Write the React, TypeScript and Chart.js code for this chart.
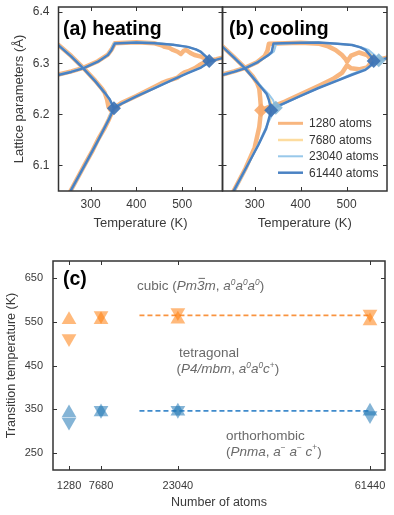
import React, { useEffect, useRef } from 'react';
import { Chart, registerables } from 'chart.js';

Chart.register(...registerables);

const FONT = '"Liberation Sans", Arial, Helvetica, sans-serif';
Chart.defaults.font.family = FONT;
Chart.defaults.color = '#3a3a3a';

type Pt = [number, number] | null;

// ---------- top panels: lattice parameters vs temperature ----------
const SIZE_LABELS = ['1280 atoms', '7680 atoms', '23040 atoms', '61440 atoms'];
const SIZE_COLORS = ['#f8b67f', '#fddc9f', '#98c8ea', '#4a82c3'];
const SIZE_WIDTHS = [4.5, 2, 2, 2.5];
const LEGEND_WIDTHS = [3, 2.5, 2, 2.5];

const TEMP_TICKS = [300, 400, 500];
const LATTICE_TICKS = [6.1, 6.2, 6.3, 6.4];

const HEAT_1280: Pt[] = [
  [230, 6.336], [258, 6.314], [284, 6.291], [310, 6.266], [325, 6.250], [331, 6.242], [336, 6.229], [339, 6.215], [344, 6.208], [351, 6.212],
  [367, 6.222], [400, 6.236], [440, 6.254], [455, 6.261], [469, 6.266], [480, 6.269], [490, 6.272], [498, 6.278], [505, 6.282], [515, 6.285], [527, 6.290], [537, 6.296], [545, 6.300], [559, 6.305], [575, 6.308], [588, 6.311],
  null,
  [230, 6.278], [258, 6.284], [284, 6.291], [316, 6.304], [338, 6.317], [346, 6.327], [353, 6.339], [400, 6.341], [440, 6.339], [455, 6.335], [462, 6.332], [472, 6.330], [480, 6.326], [490, 6.3225], [497, 6.318], [503, 6.324], [509, 6.326], [518, 6.320], [527, 6.316], [541, 6.313], [559, 6.305],
  null,
  [255, 6.048], [290, 6.106], [305, 6.130], [317, 6.152], [330, 6.172], [340, 6.190], [351, 6.212],
];
const HEAT_7680: Pt[] = [
  [230, 6.335], [258, 6.313], [284, 6.290], [310, 6.266], [331, 6.243], [342, 6.229], [350, 6.213],
  [367, 6.221], [400, 6.235], [440, 6.252], [480, 6.268], [512, 6.281], [541, 6.292], [553, 6.299], [560, 6.305], [575, 6.307], [588, 6.310],
  null,
  [230, 6.277], [258, 6.283], [284, 6.290], [316, 6.303], [338, 6.316], [346, 6.326], [352, 6.339], [400, 6.341], [440, 6.3395], [480, 6.336], [512, 6.332], [530, 6.327], [541, 6.322], [553, 6.312], [560, 6.305],
  null,
  [255, 6.048], [290, 6.105], [317, 6.150], [340, 6.190], [350, 6.213],
];
const HEAT_23040: Pt[] = [
  [230, 6.336], [258, 6.314], [284, 6.291], [310, 6.266], [331, 6.243], [341, 6.230], [349, 6.214],
  [367, 6.221], [400, 6.235], [440, 6.252], [480, 6.268], [512, 6.281], [541, 6.292], [554, 6.299], [561, 6.305], [575, 6.307], [588, 6.310],
  null,
  [230, 6.278], [258, 6.284], [284, 6.291], [316, 6.303], [337, 6.316], [345, 6.327], [351, 6.339], [400, 6.341], [440, 6.340], [480, 6.336], [512, 6.332], [530, 6.327], [541, 6.322], [554, 6.312], [561, 6.305],
  null,
  [256, 6.048], [290, 6.104], [317, 6.149], [339, 6.190], [349, 6.214],
];
const HEAT_61440: Pt[] = [
  [230, 6.335], [258, 6.313], [284, 6.290], [310, 6.265], [331, 6.242], [342, 6.229], [351, 6.212],
  [367, 6.2205], [400, 6.235], [440, 6.2515], [480, 6.268], [512, 6.2805], [541, 6.2915], [552, 6.298], [559, 6.3045], [575, 6.307], [588, 6.310],
  null,
  [230, 6.277], [258, 6.283], [284, 6.290], [316, 6.303], [338, 6.316], [346, 6.326], [353, 6.3385], [400, 6.3405], [440, 6.339], [480, 6.336], [512, 6.332], [530, 6.327], [541, 6.322], [552, 6.313], [559, 6.3045],
  null,
  [255, 6.048], [290, 6.105], [317, 6.150], [340, 6.190], [351, 6.212],
];

const COOL_1280: Pt[] = [
  [230, 6.333], [255, 6.312], [279, 6.291], [296, 6.274], [305, 6.262], [310, 6.250], [312, 6.232], [314, 6.208],
  [330, 6.214], [350, 6.219], [366, 6.225], [400, 6.239], [440, 6.256], [470, 6.269], [490, 6.281], [501, 6.296],
  null,
  [501, 6.296], [510, 6.290], [527, 6.288], [545, 6.292], [556, 6.3045],
  null,
  [501, 6.303], [510, 6.315], [527, 6.321], [545, 6.316], [556, 6.3045], [575, 6.308], [588, 6.311],
  null,
  [230, 6.278], [255, 6.284], [279, 6.291], [305, 6.302], [322, 6.314], [328, 6.325], [331, 6.338], [400, 6.340], [441, 6.338], [460, 6.333], [476, 6.326], [490, 6.316], [498, 6.308], [501, 6.303],
  null,
  [253, 6.048], [280, 6.094], [300, 6.135], [310, 6.175], [314, 6.208],
];
const COOL_7680: Pt[] = [
  [230, 6.332], [255, 6.311], [279, 6.290], [300, 6.269], [315, 6.253], [327, 6.240], [334, 6.228], [340, 6.210],
  [352, 6.217], [366, 6.223], [400, 6.236], [439, 6.252], [480, 6.266], [512, 6.278], [541, 6.288], [555, 6.296], [563, 6.305], [575, 6.307], [588, 6.310],
  null,
  [230, 6.277], [255, 6.283], [279, 6.290], [305, 6.301], [330, 6.316], [339, 6.322], [344, 6.338], [400, 6.340], [439, 6.3405], [480, 6.338], [512, 6.3355], [530, 6.331], [543, 6.326], [555, 6.315], [563, 6.305],
  null,
  [254, 6.048], [281, 6.095], [309, 6.143], [328, 6.180], [340, 6.210],
];
const COOL_23040: Pt[] = [
  [230, 6.333], [255, 6.312], [279, 6.291], [300, 6.270], [315, 6.254], [330, 6.240], [340, 6.228], [346, 6.213],
  [360, 6.219], [400, 6.236], [439, 6.252], [480, 6.267], [512, 6.279], [541, 6.289], [558, 6.298], [570, 6.306], [588, 6.310],
  null,
  [230, 6.278], [255, 6.284], [279, 6.291], [305, 6.302], [330, 6.315], [342, 6.323], [347, 6.338], [400, 6.340], [439, 6.340], [480, 6.338], [512, 6.3355], [530, 6.332], [548, 6.326], [562, 6.315], [570, 6.306],
  null,
  [255, 6.048], [282, 6.095], [310, 6.145], [330, 6.185], [346, 6.213],
];
const COOL_61440: Pt[] = [
  [230, 6.332], [255, 6.311], [279, 6.290], [300, 6.268], [315, 6.252], [326, 6.240], [331, 6.228], [336, 6.208],
  [350, 6.216], [366, 6.2225], [400, 6.236], [439, 6.2515], [480, 6.266], [512, 6.2775], [541, 6.287], [552, 6.295], [559, 6.3045], [575, 6.307], [588, 6.310],
  null,
  [230, 6.277], [255, 6.283], [279, 6.290], [305, 6.301], [330, 6.316], [337, 6.322], [341, 6.3385], [400, 6.340], [439, 6.3405], [480, 6.338], [512, 6.3355], [530, 6.331], [541, 6.326], [552, 6.315], [559, 6.3045],
  null,
  [253, 6.048], [280, 6.093], [308, 6.140], [325, 6.172], [336, 6.208],
];

const HEAT_DIAMONDS_61440: Pt[] = [[351, 6.212], [559, 6.3045]];
const COOL_DIAMONDS_1280: Pt[] = [[314, 6.208]];
const COOL_DIAMONDS_23040: Pt[] = [[346, 6.213], [570, 6.306]];
const COOL_DIAMONDS_61440: Pt[] = [[336, 6.208], [559, 6.3045]];

// ---------- bottom panel: transition temperatures ----------
const ATOMS = [1280, 7680, 23040, 61440];
const CUBIC_TETRA_HEAT = [555, 555, 556, 552];
const CUBIC_TETRA_COOL = [512, 565, 572, 568];
const TETRA_ORTHO_HEAT = [341, 343, 345, 345];
const TETRA_ORTHO_COOL = [320, 347, 347, 335];
const CUBIC_TETRA_MEAN = 565;
const TETRA_ORTHO_MEAN = 346;
const MEAN_FROM = 15360;
const TRANS_TICKS = [250, 350, 450, 550, 650];

const ORANGE_FILL = 'rgba(255,127,14,0.55)';
const BLUE_FILL = 'rgba(31,119,180,0.55)';

function toXY(pts: Pt[]) {
  let lastX = 0;
  return pts.map((p) => {
    if (p === null) return { x: lastX, y: null as any };
    lastX = p[0];
    return { x: p[0], y: p[1] };
  });
}

function noPad(s: any) {
  s.paddingTop = 0;
  s.paddingBottom = 0;
  s.paddingLeft = 0;
  s.paddingRight = 0;
}

function framePlugin(xTicks: number[], yTicks: number[], extra?: (chart: any) => void) {
  return {
    id: 'frame',
    afterDraw(chart: any) {
      const { ctx, chartArea: a, scales } = chart;
      ctx.save();
      ctx.strokeStyle = '#333';
      ctx.lineWidth = 1;
      ctx.beginPath();
      for (const v of xTicks) {
        const px = Math.round(scales.x.getPixelForValue(v)) + 0.5;
        ctx.moveTo(px, a.bottom);
        ctx.lineTo(px, a.bottom - 4);
        ctx.moveTo(px, a.top);
        ctx.lineTo(px, a.top + 4);
      }
      for (const v of yTicks) {
        const py = Math.round(scales.y.getPixelForValue(v)) + 0.5;
        ctx.moveTo(a.left, py);
        ctx.lineTo(a.left + 4, py);
        ctx.moveTo(a.right, py);
        ctx.lineTo(a.right - 4, py);
      }
      ctx.stroke();
      ctx.lineWidth = 1.5;
      ctx.strokeRect(a.left, a.top, a.right - a.left, a.bottom - a.top);
      ctx.restore();
      if (extra) {
        ctx.save();
        extra(chart);
        ctx.restore();
      }
    },
  };
}

type Seg = { t: string; it?: boolean; sup?: boolean; bar?: boolean };

function drawRich(ctx: CanvasRenderingContext2D, segs: Seg[], x: number, y: number, size: number, color: string) {
  let cx = x;
  ctx.fillStyle = color;
  ctx.strokeStyle = color;
  ctx.textBaseline = 'alphabetic';
  ctx.textAlign = 'left';
  for (const s of segs) {
    const fs = s.sup ? size * 0.62 : size;
    ctx.font = `${s.it ? 'italic ' : ''}${fs}px ${FONT}`;
    const dy = s.sup ? -size * 0.4 : 0;
    ctx.fillText(s.t, cx, y + dy);
    const w = ctx.measureText(s.t).width;
    if (s.bar) {
      ctx.lineWidth = 1;
      ctx.beginPath();
      ctx.moveTo(cx + 1.5, y - size * 0.86);
      ctx.lineTo(cx + w + 0.5, y - size * 0.86);
      ctx.stroke();
    }
    cx += w;
  }
}

function lineDatasets(series: Pt[][]) {
  return series.map((pts, i) => ({
    label: SIZE_LABELS[i],
    data: toXY(pts),
    borderColor: SIZE_COLORS[i],
    borderWidth: SIZE_WIDTHS[i],
    pointRadius: 0,
    tension: 0,
    spanGaps: false,
    borderJoinStyle: 'round' as const,
    borderCapStyle: 'round' as const,
    order: 10 - i,
  }));
}

function diamondDataset(pts: Pt[], color: string, order: number) {
  return {
    label: 'transition',
    data: toXY(pts),
    showLine: false,
    pointStyle: 'rectRot',
    pointRadius: 7,
    pointBackgroundColor: color,
    pointBorderWidth: 0,
    borderWidth: 0,
    order,
  };
}

function tempScales(showY: boolean) {
  return {
    x: {
      type: 'linear',
      min: 230,
      max: 588,
      afterBuildTicks: (s: any) => {
        s.ticks = TEMP_TICKS.map((v) => ({ value: v }));
      },
      afterFit: (s: any) => {
        s.height = 49;
        noPad(s);
      },
      grid: { display: false, drawTicks: false },
      border: { display: false },
      ticks: { padding: 6.8, font: { size: 12 }, color: '#3a3a3a', autoSkip: false, maxRotation: 0, callback: (v: any) => String(v) },
      title: { display: true, text: 'Temperature (K)', font: { size: 13 }, color: '#3a3a3a', padding: { top: 0, bottom: 9.2 } },
    },
    y: {
      type: 'linear',
      display: showY,
      min: 6.05,
      max: 6.41,
      afterBuildTicks: (s: any) => {
        s.ticks = LATTICE_TICKS.map((v) => ({ value: v }));
      },
      afterFit: (s: any) => {
        s.width = showY ? 58.5 : 0;
        noPad(s);
      },
      grid: { display: false, drawTicks: false },
      border: { display: false },
      ticks: { padding: 9, font: { size: 12 }, color: '#3a3a3a', autoSkip: false, callback: (v: any) => Number(v).toFixed(1) },
      title: { display: true, text: 'Lattice parameters (Å)', font: { size: 13 }, color: '#3a3a3a', padding: { top: 12, bottom: 0 } },
    },
  };
}

function panelLabel(text: string, x: number, y: number) {
  return (chart: any) => {
    const ctx = chart.ctx as CanvasRenderingContext2D;
    ctx.fillStyle = '#000';
    ctx.font = `bold 19.5px ${FONT}`;
    ctx.textAlign = 'left';
    ctx.textBaseline = 'alphabetic';
    ctx.fillText(text, x, y);
  };
}

export default function App() {
  const refA = useRef<HTMLCanvasElement>(null);
  const refB = useRef<HTMLCanvasElement>(null);
  const refC = useRef<HTMLCanvasElement>(null);

  useEffect(() => {
    const common = {
      responsive: false,
      animation: false,
      events: [] as any[],
      plugins: { legend: { display: false }, tooltip: { enabled: false } },
    };

    const chartA = new Chart(refA.current!, {
      type: 'line',
      data: {
        datasets: [
          ...lineDatasets([HEAT_1280, HEAT_7680, HEAT_23040, HEAT_61440]),
          diamondDataset(HEAT_DIAMONDS_61440, 'rgba(62,115,180,0.92)', 0),
        ] as any,
      },
      options: {
        ...common,
        layout: { padding: { left: 0, top: 5, right: 7.5, bottom: 0 } },
        scales: tempScales(true) as any,
      } as any,
      plugins: [framePlugin(TEMP_TICKS, LATTICE_TICKS, panelLabel('(a) heating', 63, 35))],
    });

    const legendDraw = (chart: any) => {
      const ctx = chart.ctx as CanvasRenderingContext2D;
      const rowsY = [123.3, 140, 156.3, 172.7];
      SIZE_LABELS.forEach((lab, i) => {
        ctx.strokeStyle = SIZE_COLORS[i];
        ctx.lineWidth = LEGEND_WIDTHS[i];
        ctx.beginPath();
        ctx.moveTo(64, rowsY[i]);
        ctx.lineTo(89, rowsY[i]);
        ctx.stroke();
        ctx.fillStyle = '#333';
        ctx.font = `12px ${FONT}`;
        ctx.textAlign = 'left';
        ctx.textBaseline = 'middle';
        ctx.fillText(lab, 95, rowsY[i] + 0.5);
      });
      panelLabel('(b) cooling', 15, 35)(chart);
    };

    const chartB = new Chart(refB.current!, {
      type: 'line',
      data: {
        datasets: [
          ...lineDatasets([COOL_1280, COOL_7680, COOL_23040, COOL_61440]),
          diamondDataset(COOL_DIAMONDS_1280, 'rgba(247,170,110,0.92)', 2),
          diamondDataset(COOL_DIAMONDS_23040, 'rgba(135,185,215,0.92)', 1),
          diamondDataset(COOL_DIAMONDS_61440, 'rgba(62,115,180,0.92)', 0),
        ] as any,
      },
      options: {
        ...common,
        layout: { padding: { left: 8.5, top: 5, right: 7, bottom: 0 } },
        scales: tempScales(false) as any,
      } as any,
      plugins: [framePlugin(TEMP_TICKS, LATTICE_TICKS, legendDraw)],
    });

    const annotC = (chart: any) => {
      const ctx = chart.ctx as CanvasRenderingContext2D;
      panelLabel('(c)', 63, 45)(chart);
      const g = '#6a6a6a';
      const s = 13.5;
      drawRich(ctx, [
        { t: 'cubic (' }, { t: 'Pm', it: true }, { t: '3', it: true, bar: true }, { t: 'm', it: true }, { t: ', ' },
        { t: 'a', it: true }, { t: '0', sup: true, it: true }, { t: 'a', it: true }, { t: '0', sup: true, it: true },
        { t: 'a', it: true }, { t: '0', sup: true, it: true }, { t: ')' },
      ], 137, 50, s, g);
      drawRich(ctx, [{ t: 'tetragonal' }], 179, 116.6, s, g);
      drawRich(ctx, [
        { t: '(' }, { t: 'P4/mbm', it: true }, { t: ', ' },
        { t: 'a', it: true }, { t: '0', sup: true, it: true }, { t: 'a', it: true }, { t: '0', sup: true, it: true },
        { t: 'c', it: true }, { t: '+', sup: true }, { t: ')' },
      ], 176.5, 133, s, g);
      drawRich(ctx, [{ t: 'orthorhombic' }], 226, 200, s, g);
      drawRich(ctx, [
        { t: '(' }, { t: 'Pnma', it: true }, { t: ', ' },
        { t: 'a', it: true }, { t: '−', sup: true }, { t: ' a', it: true }, { t: '−', sup: true }, { t: ' c', it: true }, { t: '+', sup: true }, { t: ')' },
      ], 226, 215.6, s, g);
    };

    const marker = (vals: number[], color: string, rot: number) => ({
      label: 'm',
      data: ATOMS.map((a, i) => ({ x: a, y: vals[i] })),
      showLine: false,
      pointStyle: 'triangle',
      pointRotation: rot,
      pointRadius: 8.5,
      pointBackgroundColor: color,
      pointBorderWidth: 0,
      borderWidth: 0,
      order: 0,
    });
    const meanLine = (v: number, color: string) => ({
      label: 'mean',
      data: [{ x: MEAN_FROM, y: v }, { x: ATOMS[ATOMS.length - 1], y: v }],
      borderColor: color,
      borderWidth: 1.8,
      borderDash: [5, 3],
      pointRadius: 0,
      order: 5,
    });

    const chartC = new Chart(refC.current!, {
      type: 'line',
      data: {
        datasets: [
          meanLine(CUBIC_TETRA_MEAN, '#f99440'),
          meanLine(TETRA_ORTHO_MEAN, '#3f8bcc'),
          marker(CUBIC_TETRA_HEAT, ORANGE_FILL, 0),
          marker(CUBIC_TETRA_COOL, ORANGE_FILL, 180),
          marker(TETRA_ORTHO_HEAT, BLUE_FILL, 0),
          marker(TETRA_ORTHO_COOL, BLUE_FILL, 180),
        ] as any,
      },
      options: {
        ...common,
        layout: { padding: { left: 0, top: 21, right: 9, bottom: 0 } },
        scales: {
          x: {
            type: 'linear',
            min: -1920,
            max: 64440,
            afterBuildTicks: (s: any) => {
              s.ticks = ATOMS.map((v) => ({ value: v }));
            },
            afterFit: (s: any) => {
              s.height = 45;
              noPad(s);
            },
            grid: { display: false, drawTicks: false },
            border: { display: false },
            ticks: { padding: 9.4, font: { size: 11 }, color: '#3a3a3a', autoSkip: false, maxRotation: 0, callback: (v: any) => String(v) },
            title: { display: true, text: 'Number of atoms', font: { size: 12.5 }, color: '#3a3a3a', padding: { top: 0, bottom: 4.5 } },
          },
          y: {
            type: 'linear',
            min: 210,
            max: 690,
            afterBuildTicks: (s: any) => {
              s.ticks = TRANS_TICKS.map((v) => ({ value: v }));
            },
            afterFit: (s: any) => {
              s.width = 53;
              noPad(s);
            },
            grid: { display: false, drawTicks: false },
            border: { display: false },
            ticks: { padding: 10, font: { size: 11 }, color: '#3a3a3a', autoSkip: false, callback: (v: any) => String(v) },
            title: { display: true, text: 'Transition temperature (K)', font: { size: 12.5 }, color: '#3a3a3a', padding: { top: 4.5, bottom: 0 } },
          },
        } as any,
      } as any,
      plugins: [framePlugin(ATOMS, TRANS_TICKS, annotC)],
    });

    return () => {
      chartA.destroy();
      chartB.destroy();
      chartC.destroy();
    };
  }, []);

  const abs = (left: number, top: number, w: number, h: number): React.CSSProperties => ({
    position: 'absolute',
    left,
    top,
    width: w,
    height: h,
    display: 'block',
  });

  return (
    <div style={{ position: 'fixed', left: 0, top: 0, width: 394, height: 515, background: '#fff', overflow: 'hidden' }}>
      <canvas ref={refA} width={230} height={240} style={abs(0, 0, 230, 240)} />
      <canvas ref={refB} width={180} height={240} style={abs(214, 0, 180, 240)} />
      <canvas ref={refC} width={394} height={275} style={abs(0, 240, 394, 275)} />
    </div>
  );
}
